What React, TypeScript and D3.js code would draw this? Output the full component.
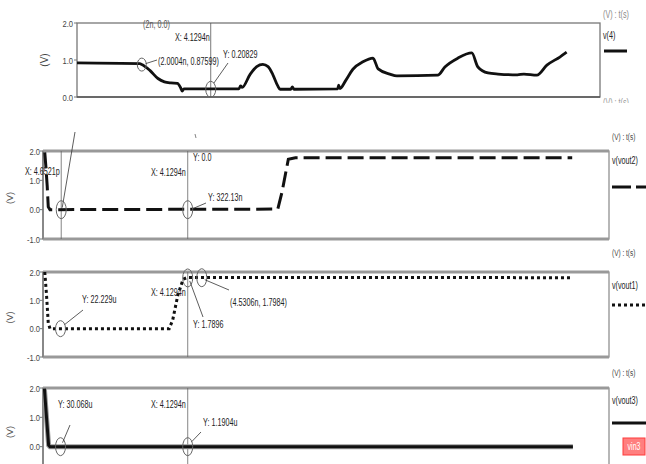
import React from "react";
import * as d3 from "d3";

// ---------- data (time in ns, value in V) ----------
const v4Time = [0, 1.94, 2.0, 2.25, 2.5, 2.7, 2.9, 3.1, 3.2, 3.25, 3.3, 5.0, 5.05, 5.1, 5.35, 5.55, 5.74, 5.9, 6.05, 6.2, 6.27, 6.6, 6.65, 6.7, 8.05, 8.08, 8.12, 8.3, 8.52, 8.83, 9.14, 9.3, 9.66, 9.88, 11.14, 11.36, 11.76, 12.19, 12.38, 12.69, 13.0, 13.6, 13.8, 14.2, 14.51, 14.91, 15.12];
const v4Value = [0.92, 0.9, 0.88, 0.72, 0.5, 0.41, 0.38, 0.37, 0.25, 0.16, 0.22, 0.22, 0.3, 0.26, 0.62, 0.82, 0.88, 0.82, 0.6, 0.3, 0.21, 0.21, 0.27, 0.21, 0.22, 0.32, 0.23, 0.45, 0.75, 0.95, 1.05, 0.76, 0.62, 0.57, 0.59, 0.81, 1.05, 1.19, 0.81, 0.65, 0.62, 0.6, 0.62, 0.59, 0.86, 1.08, 1.21];

const vout2Time = [0.05, 0.08, 0.12, 0.15, 0.2, 6.7, 6.82, 7.0, 7.2, 15.1];
const vout2Value = [1.95, 1.5, 0.8, 0.1, 0.0, 0.02, 0.6, 1.72, 1.77, 1.77];

const vout1Time = [0.05, 0.1, 0.15, 0.2, 3.6, 3.7, 3.85, 4.0, 4.13, 15.1];
const vout1Value = [2.0, 1.2, 0.2, 0.0, 0.0, 0.3, 1.2, 1.75, 1.81, 1.8];

const vout3Time = [0.04, 0.1, 0.16, 0.2, 15.12];
const vout3Value = [1.98, 1.0, 0.05, 0.0, 0.0];

const timeDomain = [0, 16.15];
const ticksTop = [0, 1, 2];
const ticksLower = [-1, 0, 1, 2];
const cursorTime = 4.1294;
const firstCursorTime = 0.52;

// markers [time, value]
const markersP1: [number, number][] = [[2.0004, 0.876], [4.1294, 0.208]];
const markersP2: [number, number][] = [[0.52, 0.0], [4.1294, 0.0]];
const markersP3: [number, number][] = [[0.5, 0.0], [4.1294, 1.79], [4.5306, 1.7984]];
const markersP4: [number, number][] = [[0.5, 0.0], [4.1294, 0.0]];

const FONT = "'Liberation Sans', Arial, sans-serif";

function T({ x, y, children, anchor = "start", fill = "#222", size = 10, sx = 0.72 }: any) {
  return (
    <text
      transform={`translate(${x},${y}) scale(${sx},1)`}
      textAnchor={anchor}
      fontFamily={FONT}
      fontSize={size}
      fill={fill}
    >
      {children}
    </text>
  );
}

function fmt(v: number) {
  return v.toFixed(1);
}

export default function App() {
  const p1 = { x0: 77, x1: 600, top: 23, bottom: 97, dom: [0, 2] };
  const p2 = { x0: 43, x1: 609, top: 151, bottom: 239, dom: [-1, 2] };
  const p3 = { x0: 43, x1: 609, top: 272, bottom: 357, dom: [-1, 2] };
  const p4 = { x0: 43, x1: 609, top: 388, bottom: 476, dom: [-1, 2] };

  const mk = (p: any) => ({
    x: d3.scaleLinear().domain(timeDomain).range([p.x0, p.x1]),
    y: d3.scaleLinear().domain(p.dom).range([p.bottom, p.top]),
  });
  const s1 = mk(p1), s2 = mk(p2), s3 = mk(p3), s4 = mk(p4);

  const path = (s: any, ts: number[], vs: number[], curve: any = d3.curveLinear) =>
    d3
      .line<number>()
      .x((_, i) => s.x(ts[i]))
      .y((_, i) => s.y(vs[i]))
      .curve(curve)(vs) as string;

  const lowerFrame = (p: any, s: any) => (
    <g>
      <rect x={p.x0} y={p.top} width={p.x1 - p.x0} height={p.bottom - p.top} fill="none" stroke="#888" strokeWidth={1.2} />
      <line x1={p.x0} x2={p.x1} y1={p.top} y2={p.top} stroke="#999" strokeWidth={3} />
      <line x1={p.x0} x2={p.x1} y1={p.bottom} y2={p.bottom} stroke="#999" strokeWidth={3} />
      <line x1={p.x0} x2={p.x0} y1={p.top} y2={p.bottom} stroke="#888" strokeWidth={2} />
      {ticksLower.filter((t) => s.y(t) < 460).map((t) => (
        <g key={t}>
          <line x1={p.x0 - 3} x2={p.x0} y1={s.y(t)} y2={s.y(t)} stroke="#777" strokeWidth={1} />
          <T x={p.x0 - 3} y={s.y(t) + 3.5} anchor="end" fill="#444" size={9.5} sx={0.8}>{fmt(t)}</T>
        </g>
      ))}
      <text transform={`translate(13,${(p.top + Math.min(p.bottom, 470)) / 2 + 3}) rotate(-90)`} textAnchor="middle" fontFamily={FONT} fontSize={9} fill="#555">(V)</text>
    </g>
  );

  const ell = (s: any, m: [number, number], key: number, rx = 5, ry = 9) => (
    <ellipse key={key} cx={s.x(m[0])} cy={s.y(m[1])} rx={rx} ry={ry} fill="none" stroke="#666" strokeWidth={1} />
  );

  const c1 = s1.x(cursorTime);
  const c2 = s2.x(cursorTime);

  return (
    <svg width={646} height={464} style={{ position: "absolute", left: 0, top: 0, background: "#fff" }}>
      <defs>
        <clipPath id="clipTop"><rect x={590} y={10} width={60} height={10} /></clipPath>
        <clipPath id="clipMid"><rect x={590} y={96} width={60} height={7} /></clipPath>
      </defs>
      <rect x={0} y={0} width={646} height={464} fill="#fff" />

      {/* ---------- panel 1 ---------- */}
      <rect x={p1.x0} y={p1.top} width={p1.x1 - p1.x0} height={p1.bottom - p1.top} fill="none" stroke="#777" strokeWidth={1.3} />
      <line x1={p1.x0} x2={p1.x1} y1={p1.bottom} y2={p1.bottom} stroke="#555" strokeWidth={1.5} />
      {ticksTop.map((t) => (
        <g key={t}>
          <line x1={p1.x0 - 3} x2={p1.x0} y1={s1.y(t)} y2={s1.y(t)} stroke="#777" strokeWidth={1} />
          <T x={p1.x0 - 4} y={s1.y(t) + 3.5} anchor="end" fill="#444" size={9.5} sx={0.8}>{fmt(t)}</T>
        </g>
      ))}
      <text transform={`translate(48,${(p1.top + p1.bottom) / 2}) rotate(-90)`} textAnchor="middle" fontFamily={FONT} fontSize={10} fill="#444">(V)</text>
      <line x1={c1} x2={c1} y1={p1.top} y2={p1.bottom} stroke="#555" strokeWidth={0.8} />
      <path d={path(s1, v4Time, v4Value, d3.curveMonotoneX)} fill="none" stroke="#111" strokeWidth={2.8} strokeLinejoin="round" />
      {markersP1.map((m, i) => ell(s1, m, i, i === 0 ? 4.5 : 5, i === 0 ? 6.5 : 8))}
      <T x={143} y={28} fill="#555">(2n, 0.0)</T>
      <T x={c1 - 1} y={41} anchor="end">X: 4.1294n</T>
      <line x1={s1.x(markersP1[0][0]) + 4} y1={s1.y(markersP1[0][1]) - 1} x2={157} y2={60} stroke="#333" strokeWidth={0.8} />
      <T x={158} y={65}>(2.0004n, 0.87599)</T>
      <line x1={c1 + 3} y1={s1.y(markersP1[1][1]) - 6} x2={228} y2={63} stroke="#333" strokeWidth={0.8} />
      <T x={223} y={58}>Y: 0.20829</T>
      <g clipPath="url(#clipTop)">
        <T x={603} y={18} fill="#888" size={10}>(V) : t(s)</T>
      </g>
      <T x={603} y={39}>v(4)</T>
      <line x1={604} x2={627} y1={51} y2={51} stroke="#111" strokeWidth={3} />
      <g clipPath="url(#clipMid)">
        <T x={603} y={106} fill="#999" size={10}>(V) : t(s)</T>
      </g>

      {/* ---------- panel 2 ---------- */}
      {lowerFrame(p2, s2)}
      <line x1={s2.x(firstCursorTime)} x2={s2.x(firstCursorTime)} y1={p2.top} y2={p2.bottom} stroke="#666" strokeWidth={0.8} />
      <line x1={c2} x2={c2} y1={p2.top} y2={p2.bottom} stroke="#666" strokeWidth={0.8} />
      <path d={path(s2, vout2Time, vout2Value)} fill="none" stroke="#111" strokeWidth={3} strokeDasharray="16,6" />
      {markersP2.map((m, i) => ell(s2, m, i))}
      <line x1={s2.x(markersP2[0][0]) + 1} y1={s2.y(0) - 2} x2={75} y2={132} stroke="#333" strokeWidth={0.8} />
      <T x={25} y={175}>X: 4.6521p</T>
      <T x={c2 - 2} y={176} anchor="end">X: 4.1294n</T>
      <line x1={195} x2={196} y1={134} y2={138} stroke="#666" strokeWidth={0.8} />
      <T x={193} y={161}>Y: 0.0</T>
      <line x1={c2 + 5} y1={s2.y(0) - 1} x2={206} y2={203} stroke="#333" strokeWidth={0.8} />
      <T x={208} y={201}>Y: 322.13n</T>
      <T x={612} y={140} fill="#444" size={9}>(V) : t(s)</T>
      <T x={612} y={164}>v(vout2)</T>
      <line x1={612} x2={646} y1={187} y2={187} stroke="#111" strokeWidth={3} strokeDasharray="19,5" />

      {/* ---------- panel 3 ---------- */}
      {lowerFrame(p3, s3)}
      <line x1={c2} x2={c2} y1={p3.top} y2={p3.bottom} stroke="#666" strokeWidth={0.8} />
      <path d={path(s3, vout1Time, vout1Value)} fill="none" stroke="#111" strokeWidth={3} strokeDasharray="3,3" />
      {markersP3.map((m, i) => ell(s3, m, i, 5, i === 0 ? 8 : 9))}
      <line x1={s3.x(markersP3[0][0]) + 4} y1={s3.y(0) - 4} x2={83} y2={310} stroke="#333" strokeWidth={0.8} />
      <T x={82} y={303}>Y: 22.229u</T>
      <T x={c2 - 2} y={296} anchor="end">X: 4.1294n</T>
      <line x1={c2 + 2} y1={s3.y(markersP3[1][1]) + 3} x2={203} y2={317} stroke="#333" strokeWidth={0.8} />
      <T x={193} y={328}>Y: 1.7896</T>
      <line x1={s3.x(markersP3[2][0]) + 3} y1={s3.y(markersP3[2][1]) + 2} x2={229} y2={290} stroke="#333" strokeWidth={0.8} />
      <T x={230} y={306}>(4.5306n, 1.7984)</T>
      <T x={612} y={256} fill="#444" size={9}>(V) : t(s)</T>
      <T x={612} y={289}>v(vout1)</T>
      <line x1={612} x2={646} y1={305} y2={305} stroke="#111" strokeWidth={3} strokeDasharray="3,3" />

      {/* ---------- panel 4 ---------- */}
      {lowerFrame(p4, s4)}
      <line x1={c2} x2={c2} y1={p4.top} y2={p4.bottom} stroke="#666" strokeWidth={0.8} />
      <path d={path(s4, vout3Time, vout3Value)} fill="none" stroke="#999" strokeWidth={5} />
      <path d={path(s4, vout3Time, vout3Value)} fill="none" stroke="#111" strokeWidth={3} />
      {markersP4.map((m, i) => ell(s4, m, i))}
      <line x1={s4.x(markersP4[0][0]) + 2} y1={s4.y(0) - 4} x2={70} y2={425} stroke="#333" strokeWidth={0.8} />
      <T x={58} y={408}>Y: 30.068u</T>
      <T x={c2 - 2} y={408} anchor="end">X: 4.1294n</T>
      <line x1={c2 + 4} y1={s4.y(0) - 5} x2={201} y2={432} stroke="#333" strokeWidth={0.8} />
      <T x={203} y={426}>Y: 1.1904u</T>
      <T x={612} y={376} fill="#444" size={9}>(V) : t(s)</T>
      <T x={612} y={404}>v(vout3)</T>
      <line x1={612} x2={646} y1={423} y2={423} stroke="#111" strokeWidth={3} />
      <rect x={623} y={438} width={22} height={17} fill="#ff7f7f" stroke="#ff3b3b" strokeWidth={1} />
      <T x={634} y={450} anchor="middle" fill="#fff" size={10} sx={0.7}>vin3</T>
    </svg>
  );
}
